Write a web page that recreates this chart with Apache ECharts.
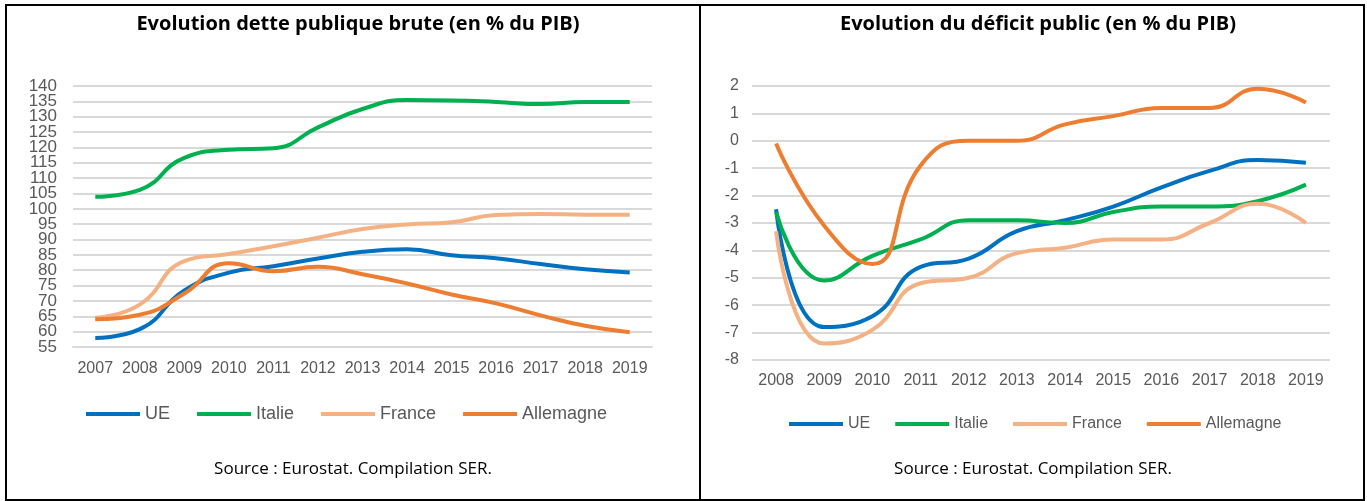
<!DOCTYPE html>
<html>
<head>
<meta charset="utf-8">
<script src="https://cdn.jsdelivr.net/npm/echarts@6/dist/echarts.min.js"></script>
<style>
  html, body { margin: 0; padding: 0; background: #fff; }
  #chart { width: 1367px; height: 501px; }
</style>
</head>
<body>
<div id="chart"></div>
<script>
// dette publique brute (% du PIB)
const yearsDette = ['2007', '2008', '2009', '2010', '2011', '2012', '2013', '2014', '2015', '2016', '2017', '2018', '2019'];
const detteUE = [57.9, 60.8, 73.4, 79.2, 81.3, 83.8, 86.0, 86.8, 84.9, 83.9, 82.0, 80.3, 79.3];
const detteItalie = [103.9, 106.2, 116.6, 119.2, 119.7, 126.5, 132.5, 135.4, 135.3, 134.8, 134.1, 134.8, 134.8];
const detteFrance = [64.5, 68.8, 83.0, 85.3, 87.8, 90.6, 93.4, 94.9, 95.6, 98.0, 98.3, 98.1, 98.1];
const detteAllemagne = [64.0, 65.5, 72.4, 82.3, 79.7, 81.1, 78.7, 75.7, 72.1, 69.2, 65.3, 61.9, 59.8];

// deficit public (% du PIB)
const yearsDeficit = ['2008', '2009', '2010', '2011', '2012', '2013', '2014', '2015', '2016', '2017', '2018', '2019'];
const deficitUE = [-2.5, -6.8, -6.4, -4.6, -4.3, -3.3, -2.9, -2.4, -1.7, -1.1, -0.7, -0.8];
const deficitItalie = [-2.6, -5.1, -4.2, -3.6, -2.9, -2.9, -3.0, -2.6, -2.4, -2.4, -2.2, -1.6];
const deficitFrance = [-3.3, -7.4, -6.9, -5.2, -5.0, -4.1, -3.9, -3.6, -3.6, -3.0, -2.3, -3.0];
const deficitAllemagne = [-0.1, -3.1, -4.5, -0.9, 0.0, 0.0, 0.6, 0.9, 1.2, 1.2, 1.9, 1.4];

const names = ['UE', 'Italie', 'France', 'Allemagne'];
const colors = ['#0070C0', '#00B050', '#F4B183', '#ED7D31'];

const chart = echarts.init(document.getElementById('chart'));

const axisTxt = { color: '#595959', fontFamily: 'Liberation Sans, Arial', fontSize: 16 };

function line(name, data, idx, color) {
  return {
    name: name,
    type: 'line',
    xAxisIndex: idx,
    yAxisIndex: idx,
    data: data,
    smooth: 0.5,
    symbol: 'none',
    lineStyle: { color: color, width: 4 },
    itemStyle: { color: color }
  };
}

// les graduations de gauche sont serrées : on les répartit sur deux axes superposés
// (une sur deux chacun) pour qu'ECharts n'en masque aucune
function detteAxis(odd, withGrid) {
  return {
    gridIndex: 0, type: 'value', min: 55, max: 140, interval: 5, position: 'left',
    axisLine: { show: false }, axisTick: { show: false },
    axisLabel: Object.assign({
      margin: 16, showMinLabel: true, showMaxLabel: true,
      formatter: function (v) { return ((v - 55) % 10 === 0) !== odd ? String(v) : ''; }
    }, axisTxt, { fontSize: 17 }),
    splitLine: { show: withGrid, lineStyle: { color: '#D9D9D9', width: 2 } }
  };
}

const titleStyle = { fontFamily: 'Open Sans', fontWeight: 'bold', fontSize: 20, color: '#000' };
const sourceFont = '17px "Open Sans"';

chart.setOption({
  animation: false,
  color: colors,
  title: [
    { text: 'Evolution dette publique brute (en % du PIB)', left: 353, top: 9, textAlign: 'center', textStyle: titleStyle },
    { text: 'Evolution du déficit public (en % du PIB)', left: 1033, top: 9, textAlign: 'center', textStyle: titleStyle }
  ],
  legend: [
    {
      data: names, left: 86, top: 405, padding: 0, itemWidth: 54, itemHeight: 4, itemGap: 27,
      icon: 'rect', textStyle: Object.assign({}, axisTxt, { fontSize: 18 })
    },
    {
      data: names, left: 789, top: 416, padding: 0, itemWidth: 54, itemHeight: 4, itemGap: 25,
      icon: 'rect', textStyle: axisTxt
    }
  ],
  grid: [
    { left: 73, top: 86, width: 579, height: 261 },
    { left: 752, top: 86, width: 578, height: 274 }
  ],
  xAxis: [
    {
      gridIndex: 0, type: 'category', data: yearsDette, boundaryGap: true,
      axisLine: { lineStyle: { color: '#D9D9D9', width: 2 } },
      axisTick: { show: false },
      axisLabel: Object.assign({ margin: 14, interval: 0 }, axisTxt)
    },
    {
      gridIndex: 1, type: 'category', data: yearsDeficit, boundaryGap: true,
      axisLine: { show: false },
      axisTick: { show: false },
      axisLabel: Object.assign({ margin: 13, interval: 0 }, axisTxt)
    }
  ],
  yAxis: [
    detteAxis(false, true),
    {
      gridIndex: 1, type: 'value', min: -8, max: 2, interval: 1,
      axisLine: { show: false }, axisTick: { show: false },
      axisLabel: Object.assign({ margin: 13, showMinLabel: true, showMaxLabel: true }, axisTxt),
      splitLine: { lineStyle: { color: '#D9D9D9', width: 2 } }
    },
    detteAxis(true, false)
  ],
  series: [
    line('UE', detteUE, 0, colors[0]),
    line('Italie', detteItalie, 0, colors[1]),
    line('France', detteFrance, 0, colors[2]),
    line('Allemagne', detteAllemagne, 0, colors[3]),
    line('UE', deficitUE, 1, colors[0]),
    line('Italie', deficitItalie, 1, colors[1]),
    line('France', deficitFrance, 1, colors[2]),
    line('Allemagne', deficitAllemagne, 1, colors[3])
  ],
  graphic: [
    {
      type: 'rect', shape: { x: 6, y: 5, width: 1358, height: 495 },
      style: { fill: 'none', stroke: '#000', lineWidth: 2 }, silent: true
    },
    {
      type: 'line', shape: { x1: 700, y1: 5, x2: 700, y2: 500 },
      style: { stroke: '#000', lineWidth: 2 }, silent: true
    },
    {
      type: 'text', x: 353, y: 469,
      style: { text: 'Source : Eurostat. Compilation SER.', fill: '#000', font: sourceFont, textAlign: 'center', textVerticalAlign: 'middle' }
    },
    {
      type: 'text', x: 1033, y: 469,
      style: { text: 'Source : Eurostat. Compilation SER.', fill: '#000', font: sourceFont, textAlign: 'center', textVerticalAlign: 'middle' }
    }
  ]
});
</script>
</body>
</html>
